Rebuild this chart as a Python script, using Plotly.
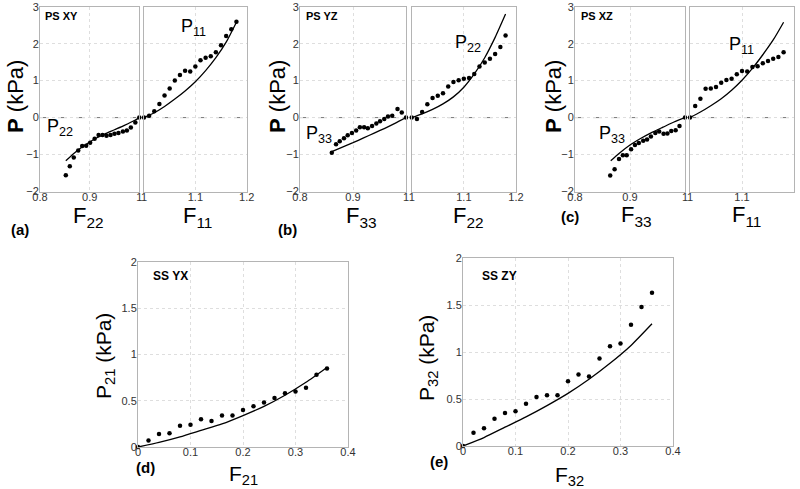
import plotly.graph_objects as go

# ---------------- data ----------------
# (a) PS XY
a_left_x = [0.852, 0.860, 0.868, 0.877, 0.885, 0.893, 0.901, 0.910, 0.918, 0.926,
            0.934, 0.942, 0.950, 0.958, 0.967, 0.975, 0.983, 0.992, 1.000]
a_left_y = [-1.56, -1.32, -1.08, -0.89, -0.77, -0.76, -0.68, -0.57, -0.47, -0.47,
            -0.49, -0.47, -0.44, -0.42, -0.38, -0.35, -0.27, -0.13, 0.0]
a_left_fit_x = [0.852, 0.87, 0.89, 0.91, 0.93, 0.95, 0.97, 0.99, 1.0]
a_left_fit_y = [-1.17, -0.95, -0.75, -0.58, -0.45, -0.33, -0.21, -0.08, 0.0]
a_right_x = [1.00, 1.01, 1.02, 1.03, 1.04, 1.05, 1.06, 1.07, 1.08, 1.09,
             1.10, 1.11, 1.12, 1.13, 1.14, 1.15, 1.16, 1.17, 1.18]
a_right_y = [0.0, 0.05, 0.17, 0.37, 0.60, 0.79, 1.00, 1.15, 1.27, 1.25,
             1.38, 1.55, 1.62, 1.66, 1.77, 1.96, 2.21, 2.39, 2.59]
a_right_fit_x = [1.00, 1.02, 1.04, 1.06, 1.08, 1.10, 1.12, 1.14, 1.16, 1.18]
a_right_fit_y = [0.0, 0.13, 0.30, 0.50, 0.72, 0.97, 1.27, 1.62, 2.04, 2.58]

# (b) PS YZ
b_left_x = [0.860, 0.868, 0.875, 0.883, 0.890, 0.898, 0.906, 0.913, 0.921, 0.928,
            0.936, 0.944, 0.951, 0.959, 0.966, 0.974, 0.984, 0.992, 1.000]
b_left_y = [-0.95, -0.72, -0.64, -0.56, -0.48, -0.42, -0.35, -0.26, -0.26, -0.29,
            -0.23, -0.16, -0.10, -0.04, 0.03, 0.05, 0.23, 0.14, 0.0]
b_left_fit_x = [0.86, 0.88, 0.90, 0.92, 0.94, 0.96, 0.98, 1.00]
b_left_fit_y = [-0.92, -0.80, -0.68, -0.55, -0.42, -0.29, -0.15, 0.0]
b_right_x = [1.00, 1.01, 1.02, 1.03, 1.04, 1.05, 1.06, 1.07, 1.08, 1.09,
             1.10, 1.11, 1.12, 1.13, 1.14, 1.15, 1.16, 1.17, 1.18]
b_right_y = [0.0, -0.04, 0.15, 0.36, 0.53, 0.59, 0.66, 0.84, 0.96, 1.01,
             1.05, 1.07, 1.18, 1.38, 1.49, 1.59, 1.72, 1.91, 2.22]
b_right_fit_x = [1.00, 1.02, 1.04, 1.06, 1.08, 1.10, 1.12, 1.14, 1.16, 1.18]
b_right_fit_y = [0.0, 0.10, 0.22, 0.37, 0.56, 0.82, 1.18, 1.62, 2.17, 2.80]

# (c) PS XZ
c_left_x = [0.864, 0.872, 0.880, 0.887, 0.894, 0.902, 0.909, 0.916, 0.924, 0.931,
            0.938, 0.946, 0.953, 0.961, 0.968, 0.975, 0.983, 0.990, 1.000]
c_left_y = [-1.57, -1.40, -1.12, -1.02, -1.02, -0.86, -0.74, -0.69, -0.63, -0.59,
            -0.51, -0.42, -0.38, -0.44, -0.43, -0.36, -0.34, -0.23, 0.0]
c_left_fit_x = [0.865, 0.88, 0.90, 0.92, 0.94, 0.96, 0.98, 1.00]
c_left_fit_y = [-1.17, -0.97, -0.74, -0.56, -0.40, -0.26, -0.12, 0.0]
c_right_x = [1.00, 1.01, 1.02, 1.03, 1.04, 1.05, 1.06, 1.07, 1.08, 1.09,
             1.10, 1.11, 1.12, 1.13, 1.14, 1.15, 1.16, 1.17, 1.18]
c_right_y = [0.0, 0.31, 0.51, 0.78, 0.79, 0.83, 0.94, 1.02, 1.05, 1.17,
             1.26, 1.25, 1.37, 1.39, 1.47, 1.53, 1.59, 1.64, 1.77]
c_right_fit_x = [1.00, 1.02, 1.04, 1.06, 1.08, 1.10, 1.12, 1.14, 1.16, 1.18]
c_right_fit_y = [0.0, 0.15, 0.32, 0.51, 0.74, 1.01, 1.33, 1.70, 2.10, 2.58]

# (d) SS YX
d_x = [0.0, 0.02, 0.04, 0.06, 0.08, 0.10, 0.12, 0.14, 0.16, 0.18,
       0.20, 0.22, 0.24, 0.26, 0.28, 0.30, 0.32, 0.34, 0.36]
d_y = [0.0, 0.07, 0.14, 0.15, 0.23, 0.24, 0.30, 0.28, 0.34, 0.34,
       0.40, 0.44, 0.48, 0.53, 0.58, 0.60, 0.64, 0.78, 0.85]
d_fit_x = [0.0, 0.04, 0.08, 0.12, 0.16, 0.20, 0.24, 0.28, 0.32, 0.36]
d_fit_y = [0.0, 0.05, 0.11, 0.18, 0.25, 0.34, 0.44, 0.56, 0.70, 0.86]

# (e) SS ZY
e_x = [0.0, 0.02, 0.04, 0.06, 0.08, 0.10, 0.12, 0.14, 0.16, 0.18,
       0.20, 0.22, 0.24, 0.26, 0.28, 0.30, 0.32, 0.34, 0.36]
e_y = [0.0, 0.14, 0.19, 0.29, 0.35, 0.37, 0.45, 0.52, 0.54, 0.54,
       0.69, 0.76, 0.74, 0.93, 1.06, 1.09, 1.29, 1.48, 1.63]
e_fit_x = [0.0, 0.04, 0.08, 0.12, 0.16, 0.20, 0.24, 0.28, 0.32, 0.36]
e_fit_y = [0.0, 0.09, 0.20, 0.31, 0.43, 0.56, 0.71, 0.88, 1.07, 1.30]

ps_left_ticks = [0.8, 0.9, 1.0]
ps_left_ticktext = ["0.8", "0.9", "1"]
ps_right_ticks = [1.0, 1.1, 1.2]
ps_right_ticktext = ["1", "1.1", "1.2"]
ps_y_ticks = [-2, -1, 0, 1, 2, 3]
ss_x_ticks = [0, 0.1, 0.2, 0.3, 0.4]
ss_x_ticktext = ["0", "0.1", "0.2", "0.3", "0.4"]
ss_y_ticks = [0, 0.5, 1, 1.5, 2]

# ---------------- layout helpers ----------------
W, H = 800, 489
FONT = "Liberation Sans, Arial, sans-serif"
FRAME = "#b4b4b4"
GRID = "#dedede"
TICKC = "#333333"


def xd(a, b):
    return [a / W, b / W]


def yd(top, bottom):
    return [1 - bottom / H, 1 - top / H]


def px(x):
    return x / W


def py(y):
    return 1 - y / H


fig = go.Figure()

panels = [
    (xd(40, 139.3), yd(6.7, 191.5), [0.8, 1.0], [-2, 3], ps_left_ticks, ps_left_ticktext, ps_y_ticks, True,
     (a_left_x, a_left_y), (a_left_fit_x, a_left_fit_y), True),
    (xd(144, 246.7), yd(6.7, 191.5), [1.0, 1.2], [-2, 3], ps_right_ticks, ps_right_ticktext, ps_y_ticks, False,
     (a_right_x, a_right_y), (a_right_fit_x, a_right_fit_y), True),
    (xd(300, 406), yd(6.7, 191.5), [0.8, 1.0], [-2, 3], ps_left_ticks, ps_left_ticktext, ps_y_ticks, True,
     (b_left_x, b_left_y), (b_left_fit_x, b_left_fit_y), True),
    (xd(411.7, 516), yd(6.7, 191.5), [1.0, 1.2], [-2, 3], ps_right_ticks, ps_right_ticktext, ps_y_ticks, False,
     (b_right_x, b_right_y), (b_right_fit_x, b_right_fit_y), True),
    (xd(575, 685), yd(6.7, 191.5), [0.8, 1.0], [-2, 3], ps_left_ticks, ps_left_ticktext, ps_y_ticks, True,
     (c_left_x, c_left_y), (c_left_fit_x, c_left_fit_y), True),
    (xd(690, 794), yd(6.7, 191.5), [1.0, 1.2], [-2, 3], ps_right_ticks, ps_right_ticktext, ps_y_ticks, False,
     (c_right_x, c_right_y), (c_right_fit_x, c_right_fit_y), True),
    (xd(138, 348), yd(262, 447), [0, 0.4], [0, 2], ss_x_ticks, ss_x_ticktext,
     ss_y_ticks, True, (d_x, d_y), (d_fit_x, d_fit_y), False),
    (xd(463, 673), yd(258, 446), [0, 0.4], [0, 2], ss_x_ticks, ss_x_ticktext,
     ss_y_ticks, True, (e_x, e_y), (e_fit_x, e_fit_y), False),
]

layout_axes = {}
shapes = []
for i, (xdom, ydom, xr, yr, xt, xtt, yt, showy, pts, fit, zero) in enumerate(panels):
    n = i + 1
    sfx = "" if n == 1 else str(n)
    xa = "x" + sfx
    ya = "y" + sfx
    fig.add_trace(go.Scatter(x=fit[0], y=fit[1], mode="lines", xaxis=xa, yaxis=ya,
                             line=dict(color="black", width=1.3, shape="spline", smoothing=0.6),
                             showlegend=False, hoverinfo="skip"))
    fig.add_trace(go.Scatter(x=pts[0], y=pts[1], mode="markers", xaxis=xa, yaxis=ya,
                             marker=dict(color="black", size=4.5), cliponaxis=False,
                             showlegend=False))
    layout_axes["xaxis" + sfx] = dict(
        domain=xdom, range=xr, anchor=ya, tickmode="array", tickvals=xt, ticktext=xtt,
        showline=True, linecolor=FRAME, linewidth=1, mirror=True, automargin=False,
        showgrid=True, gridcolor=GRID, griddash="dot", gridwidth=1,
        zeroline=False, ticks="", ticklen=0, ticklabelstandoff=-5,
        tickfont=dict(family=FONT, size=11, color=TICKC))
    layout_axes["yaxis" + sfx] = dict(
        domain=ydom, range=yr, anchor=xa, tickmode="array", tickvals=yt,
        showticklabels=showy, automargin=False,
        showline=True, linecolor=FRAME, linewidth=1, mirror=True,
        showgrid=True, gridcolor=GRID, griddash="dot", gridwidth=1,
        zeroline=False, ticks="", ticklen=0, ticklabelstandoff=-2,
        tickfont=dict(family=FONT, size=11, color=TICKC))
    if zero:
        shapes.append(dict(type="line", xref=xa + " domain", yref=ya, x0=0, x1=1, y0=0, y1=0,
                           line=dict(color="#777777", width=1, dash="dash"), layer="below"))

ann = []


def add(text, x, y, size, angle=0, bold=False, xanchor="center"):
    t = "<b>%s</b>" % text if bold else text
    ann.append(dict(text=t, x=px(x), y=py(y), xref="paper", yref="paper", showarrow=False,
                    font=dict(family=FONT, size=size, color="black"), textangle=angle,
                    xanchor=xanchor, yanchor="middle"))


# y labels for PS panels
for xpos in [15, 277, 553]:
    add("<b>P</b> (kPa)", xpos, 97, 22, angle=-90)

# panel titles
add("PS XY", 43, 16, 11, bold=True, xanchor="left")
add("PS YZ", 304, 16, 11, bold=True, xanchor="left")
add("PS XZ", 579, 16, 11, bold=True, xanchor="left")
add("SS YX", 151, 276, 12, bold=True, xanchor="left")
add("SS ZY", 480, 276, 12, bold=True, xanchor="left")

# in-plot curve labels
add("P<sub>11</sub>", 193, 27, 18)
add("P<sub>22</sub>", 60, 127, 18)
add("P<sub>33</sub>", 319, 134, 18)
add("P<sub>22</sub>", 468, 43, 18)
add("P<sub>33</sub>", 612, 134, 18)
add("P<sub>11</sub>", 741, 45, 18)

# x labels
add("F<sub>22</sub>", 88, 217, 22)
add("F<sub>11</sub>", 197, 217, 22)
add("F<sub>33</sub>", 361, 217, 22)
add("F<sub>22</sub>", 468, 217, 22)
add("F<sub>33</sub>", 636, 216, 22)
add("F<sub>11</sub>", 746, 216, 22)
add("F<sub>21</sub>", 243, 475, 21)
add("F<sub>32</sub>", 569, 476, 21)

# y labels for SS panels
add("P<sub>21</sub> (kPa)", 105, 356, 21, angle=-90)
add("P<sub>32</sub> (kPa)", 428, 358, 21, angle=-90)

# panel letters
add("(a)", 20, 229, 15, bold=True)
add("(b)", 287, 229, 15, bold=True)
add("(c)", 570, 216, 15, bold=True)
add("(d)", 145, 467, 15, bold=True)
add("(e)", 439, 461, 15, bold=True)

fig.update_layout(
    width=W, height=H, margin=dict(l=0, r=0, t=0, b=0),
    paper_bgcolor="white", plot_bgcolor="white",
    annotations=ann, shapes=shapes, showlegend=False,
    font=dict(family=FONT),
    **layout_axes)

fig.write_html("out.html", config={"displayModeBar": False},
               post_script="document.body.style.margin='0';document.body.style.overflow='hidden';")
